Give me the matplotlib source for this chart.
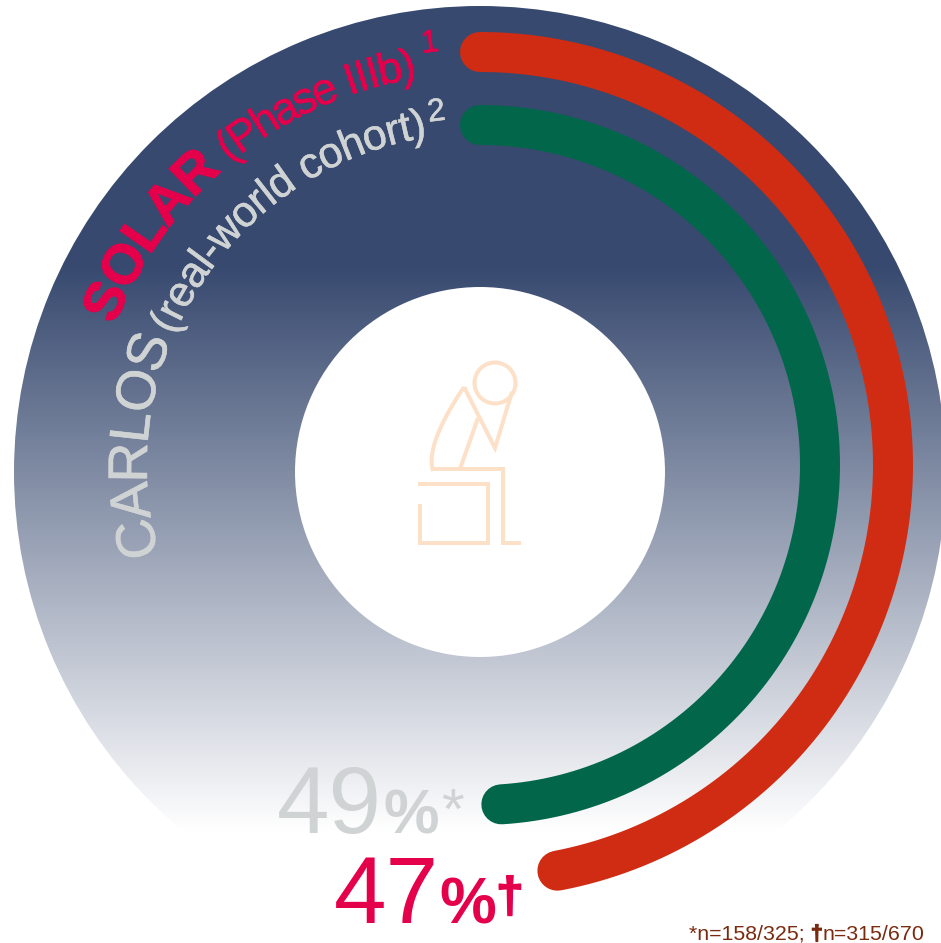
import matplotlib
matplotlib.use("Agg")
import matplotlib.pyplot as plt
import matplotlib.patheffects as pe
import numpy as np
from matplotlib.patches import Circle, Wedge
from matplotlib.font_manager import FontProperties
from matplotlib.textpath import text_to_path

plt.rcParams['font.family'] = ['Liberation Sans', 'DejaVu Sans']

# Data
studies = ['SOLAR', 'CARLOS']
designs = ['(Phase IIIb)', '(real-world cohort)']
refs = ['1', '2']
percent = [47, 49]
footnote = ['*n=158/325; ', '†', 'n=315/670']

red = '#cf2c13'
green = '#02664a'
pink = '#e4004b'
grey = '#d0d3d4'
navy = np.array([0x37, 0x49, 0x6f]) / 255
peach = '#fde0c8'
brown = '#7a2a0e'

W, H = 941, 943
DPI = 100

fig = plt.figure(figsize=(W / DPI, H / DPI), dpi=DPI, facecolor='white')
ax = fig.add_axes([0, 0, 1, 1])

# Donut with vertical fade
ring_c = (480, 472)
ring = Wedge(ring_c, 466, 0, 360, width=281, facecolor='none', edgecolor='none', transform=ax.transData)
ax.add_patch(ring)
rows = np.arange(H)
fade = np.clip((rows - 265) / (830 - 265), 0, 1)[:, None, None]
grad = navy[None, None, :] * (1 - fade) + fade
img = ax.imshow(grad, extent=(0, W, H, 0), aspect='auto', zorder=1, interpolation='nearest')
img.set_clip_path(ring)
ax.set_xlim(0, W)
ax.set_ylim(H, 0)
ax.axis('off')

# Progress arcs, measured clockwise from 12 o'clock
arc_c = (480, 465)
arc_r = [413, 340]
arc_col = [red, green]
for val, r, col in zip(percent, arc_r, arc_col):
    th = np.linspace(0, val / 100 * 2 * np.pi, 400)
    ax.plot(arc_c[0] + r * np.sin(th), arc_c[1] - r * np.cos(th), color=col, lw=40 * 72 / DPI,
            solid_capstyle='round', zorder=3)


def advance(s, size, weight):
    # width of a string in pixels, the bar keeps trailing spaces counted
    fp = FontProperties(family='Liberation Sans', size=size, weight=weight)
    w1 = text_to_path.get_text_width_height_descent(s + '|', fp, False)[0]
    w0 = text_to_path.get_text_width_height_descent('|', fp, False)[0]
    return (w1 - w0) * DPI / 72


def curved(s, start_deg, r, size, color, weight='normal', squeeze=1.0, stroke=0.4):
    # one glyph at a time along a circle
    start = np.radians(start_deg)
    for i, ch in enumerate(s):
        mid = advance(s[:i], size, weight) + advance(ch, size, weight) / 2
        a = start + squeeze * mid / r
        ax.text(arc_c[0] + r * np.sin(a), arc_c[1] - r * np.cos(a), ch, fontsize=size, color=color,
                fontweight=weight, rotation=-np.degrees(a), rotation_mode='anchor',
                ha='center', va='baseline', zorder=4,
                path_effects=[pe.withStroke(linewidth=stroke, foreground=color)])


# Study names around the top left of the ring
curved(studies[0], -69, 391, 40, pink, 'bold', squeeze=0.97, stroke=0.8)
curved(designs[0], -39.5, 392, 32, pink, squeeze=0.9)
curved(refs[0], -8, 416, 23, pink)

curved(studies[1], -105.5, 333, 40, grey, squeeze=0.95)
curved(designs[1], -67, 332, 31, grey, squeeze=0.96)
curved(refs[1], -8.5, 347, 23, grey)

# Centre icon, seated figure
icon_lw = 4 * 72 / DPI
ax.add_patch(Circle((495, 383), 20.5, fill=False, ec=peach, lw=icon_lw, zorder=2))
torso_t = np.linspace(0, 1, 30)
back_x = (1 - torso_t) ** 2 * 464 + 2 * (1 - torso_t) * torso_t * 425 + torso_t ** 2 * 433
back_y = (1 - torso_t) ** 2 * 387 + 2 * (1 - torso_t) * torso_t * 445 + torso_t ** 2 * 471
icon_lines = [
    ([512, 495, 464], [392, 448, 387]),
    (list(back_x), list(back_y)),
    ([431, 503, 503, 521], [469, 469, 543, 543]),
    ([478, 460], [418, 469]),
    ([418, 488, 488, 420, 420], [484, 484, 543, 543, 504]),
]
for xs, ys in icon_lines:
    ax.plot(xs, ys, color=peach, lw=icon_lw, solid_joinstyle='miter', solid_capstyle='butt', zorder=2)

# Percentages
ax.text(277, 833, f'{percent[1]}', fontsize=68, color=grey, va='baseline', zorder=4)
ax.text(384, 833, '%', fontsize=45, color=grey, fontweight='bold', va='baseline', zorder=4)
ax.text(441, 829, '*', fontsize=42, color=grey, va='baseline', zorder=4)
ax.text(334, 923, f'{percent[0]}', fontsize=68, color=pink, va='baseline', zorder=4)
ax.text(439, 923, '%', fontsize=46, color=pink, fontweight='bold', va='baseline', zorder=4)
ax.text(496, 912, '†', fontsize=36, color=pink, fontweight='bold', va='baseline', zorder=4,
        path_effects=[pe.withStroke(linewidth=1.2, foreground=pink)])

# Footnote
x = 689
for part in footnote:
    wt = 'bold' if part == '†' else 'normal'
    effects = [pe.withStroke(linewidth=0.9, foreground=brown)] if part == '†' else None
    ax.text(x, 940, part, fontsize=15.4, color=brown, fontweight=wt, va='baseline', zorder=4,
            path_effects=effects)
    x += advance(part, 15.4, wt)

fig.savefig('out.png', dpi=DPI)
